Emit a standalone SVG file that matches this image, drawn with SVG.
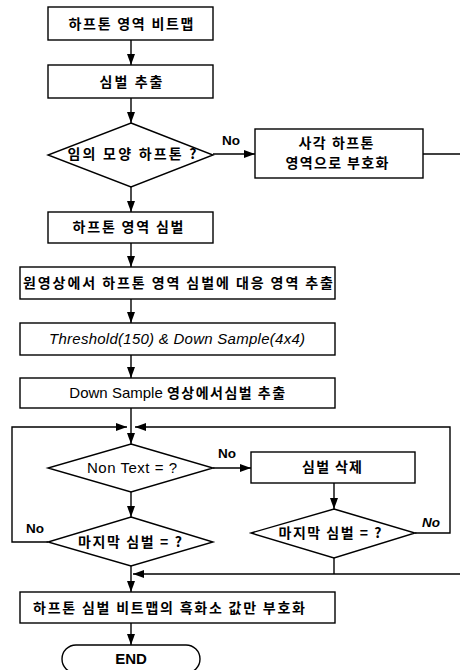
<svg xmlns="http://www.w3.org/2000/svg" width="460" height="670" viewBox="0 0 460 670">
<defs>
<marker id="ah" markerUnits="userSpaceOnUse" markerWidth="11" markerHeight="8" refX="11" refY="4" orient="auto">
<path d="M0,0 L11,4 L0,8 z" fill="#000"/>
</marker>
<style>
.box{fill:#fff;stroke:#000;stroke-width:1.4}
.ln{fill:none;stroke:#000;stroke-width:1.4}
.ar{fill:none;stroke:#000;stroke-width:1.4;marker-end:url(#ah)}
.ko{font-family:"Noto Sans CJK KR","Noto Sans",sans-serif;font-weight:bold;font-size:14px;fill:#000;text-anchor:middle}
.en{font-family:"Liberation Sans",Arial,sans-serif;font-size:15px;fill:#000;text-anchor:middle}
.no{font-family:"Liberation Sans",Arial,sans-serif;font-size:13.5px;fill:#000;font-weight:bold}
</style>
</defs>
<rect width="460" height="670" fill="#fff"/>
<g id="connectors">
<line class="ar" x1="131" y1="40" x2="131" y2="65"/>
<line class="ar" x1="131" y1="98" x2="131" y2="123"/>
<line class="ar" x1="213" y1="154" x2="255" y2="154"/>
<line class="ln" x1="423" y1="154" x2="460" y2="154"/>
<line class="ar" x1="131" y1="187" x2="131" y2="212"/>
<line class="ar" x1="131" y1="243" x2="131" y2="267"/>
<line class="ar" x1="131" y1="299" x2="131" y2="323"/>
<line class="ar" x1="131" y1="355" x2="131" y2="378"/>
<line class="ar" x1="131" y1="408" x2="131" y2="444"/>
<polyline class="ar" points="48,542 12,542 12,427 127,427"/>
<polyline class="ar" points="415,533 450,533 450,427 135,427"/>
<line class="ar" x1="213" y1="468" x2="251" y2="468"/>
<line class="ar" x1="334" y1="483" x2="334" y2="509"/>
<line class="ar" x1="131" y1="492" x2="131" y2="517"/>
<line class="ln" x1="334" y1="558" x2="334" y2="574"/>
<line class="ar" x1="460" y1="574" x2="133" y2="574"/>
<line class="ar" x1="131" y1="566" x2="131" y2="592"/>
<line class="ar" x1="131" y1="623" x2="131" y2="645"/>
<text class="no" x="222" y="145">No</text>
<text class="no" x="218" y="458">No</text>
<text class="no" x="26" y="533">No</text>
<text class="no" x="422" y="527" font-style="italic">No</text>
</g>
<g id="n1"><rect class="box" x="48" y="7" width="165" height="33"/><text class="ko" x="131" y="29" textLength="125" lengthAdjust="spacing">하프톤 영역 비트맵</text></g>
<g id="n2"><rect class="box" x="48" y="65" width="165" height="33"/><text class="ko" x="131" y="87" textLength="63" lengthAdjust="spacing">심벌 추출</text></g>
<g id="d1"><polygon class="box" points="131,123 213,155 131,187 48,155"/><text class="ko" x="132" y="159" textLength="129" lengthAdjust="spacing">임의 모양 하프톤 ?</text></g>
<g id="n3"><rect class="box" x="255" y="129" width="168" height="49"/><text class="ko" x="336" y="148" textLength="75" lengthAdjust="spacing">사각 하프톤</text><text class="ko" x="337" y="168" textLength="103" lengthAdjust="spacing">영역으로 부호화</text></g>
<g id="n4"><rect class="box" x="48" y="212" width="165" height="31"/><text class="ko" x="128" y="232" textLength="111" lengthAdjust="spacing">하프톤 영역 심벌</text></g>
<g id="n5"><rect class="box" x="20" y="267" width="315" height="32"/><text class="ko" x="178" y="288" textLength="310" lengthAdjust="spacing">원영상에서 하프톤 영역 심벌에 대응 영역 추출</text></g>
<g id="n6"><rect class="box" x="20" y="323" width="315" height="32"/><text class="en" x="177" y="344" font-style="italic" textLength="256" lengthAdjust="spacing">Threshold(150) &amp; Down Sample(4x4)</text></g>
<g id="n7"><rect class="box" x="20" y="378" width="315" height="30"/><text class="en" x="178" y="398">Down Sample <tspan class="ko" style="font-size:14px;letter-spacing:1.5px">영상에서심벌 추출</tspan></text></g>
<g id="d2"><polygon class="box" points="131,444 213,468 131,492 48,468"/><text class="en" x="132" y="473" textLength="90" lengthAdjust="spacing">Non Text = ?</text></g>
<g id="n8"><rect class="box" x="251" y="452" width="164" height="31"/><text class="ko" x="332" y="472" textLength="60" lengthAdjust="spacing">심벌 삭제</text></g>
<g id="d3"><polygon class="box" points="334,509 415,533 334,558 251,533"/><text class="ko" x="330" y="538" textLength="103" lengthAdjust="spacing">마지막 심벌 = ?</text></g>
<g id="d4"><polygon class="box" points="131,517 213,542 131,566 48,542"/><text class="ko" x="130" y="547" textLength="104" lengthAdjust="spacing">마지막 심벌 = ?</text></g>
<g id="n9"><rect class="box" x="20" y="592" width="315" height="31"/><text class="ko" x="169" y="613" textLength="272" lengthAdjust="spacing">하프톤 심벌 비트맵의 흑화소 값만 부호화</text></g>
<g id="n10"><rect class="box" x="62" y="645" width="138" height="28" rx="14"/><text class="en" x="131" y="664" font-weight="bold" font-size="13.5">END</text></g>
</svg>
